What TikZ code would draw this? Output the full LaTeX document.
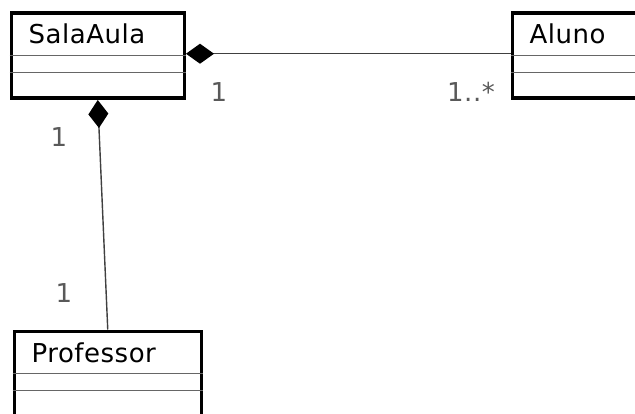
\documentclass[tikz,border=0pt]{standalone}
\usepackage{fontspec}
\setmainfont{DejaVu Sans}[LetterSpace = 2]
\usetikzlibrary{arrows.meta}
\begin{document}
\begin{tikzpicture}[x=1pt, y=-1pt,
    cls/.style = {rectangle, draw = black, line width = 3.5pt, minimum width = #1, minimum height = 85pt, anchor = north west, inner sep = 0pt},
    clsname/.style = {anchor = base west, inner sep = 0pt, font = \fontsize{26}{31}\selectfont},
    sep/.style = {line width = 1.7pt, draw = black!60},
    mult/.style = {text = black!65, inner sep = 0pt, font = \fontsize{26}{31}\selectfont},
    comp/.style = {draw = black!75, line width = 1.4pt, arrows = {Diamond[length = 28pt, width = 20pt, color = black]-}}]
                \useasboundingbox (0,0) rectangle (635,414);
                \clip (0,0) rectangle (635,414);
                \foreach \n/\t/\x/\y/\w in {sala/SalaAula/9.5/11.5/173pt, aluno/Aluno/510.5/11.5/173pt, prof/Professor/12.5/329.5/187pt} {
                    \node [cls = \w] (\n) at (\x,\y) {};
                    \node [clsname] (\n-name) at ([xshift = 19pt, yshift = -32.5pt]\n.north west) {\t};
                    \draw [sep] ([yshift = -44pt]\n.north west) -- ([yshift = -44pt]\n.north east);
                    \draw [sep] ([yshift = -61pt]\n.north west) -- ([yshift = -61pt]\n.north east);
                }
                \draw [comp] ([yshift = 2pt]sala.east) -- ([yshift = 2pt]aluno.west);
                \draw [comp] (sala.south) -- (prof.north);
                \node [mult] (m-sala-a) at (219,92) {1};
                \node [mult] (m-aluno) at (471,92) {1..*};
                \node [mult] (m-sala-p) at (59,137) {1};
                \node [mult] (m-prof) at (64,293) {1};
            \end{tikzpicture}
\end{document}
